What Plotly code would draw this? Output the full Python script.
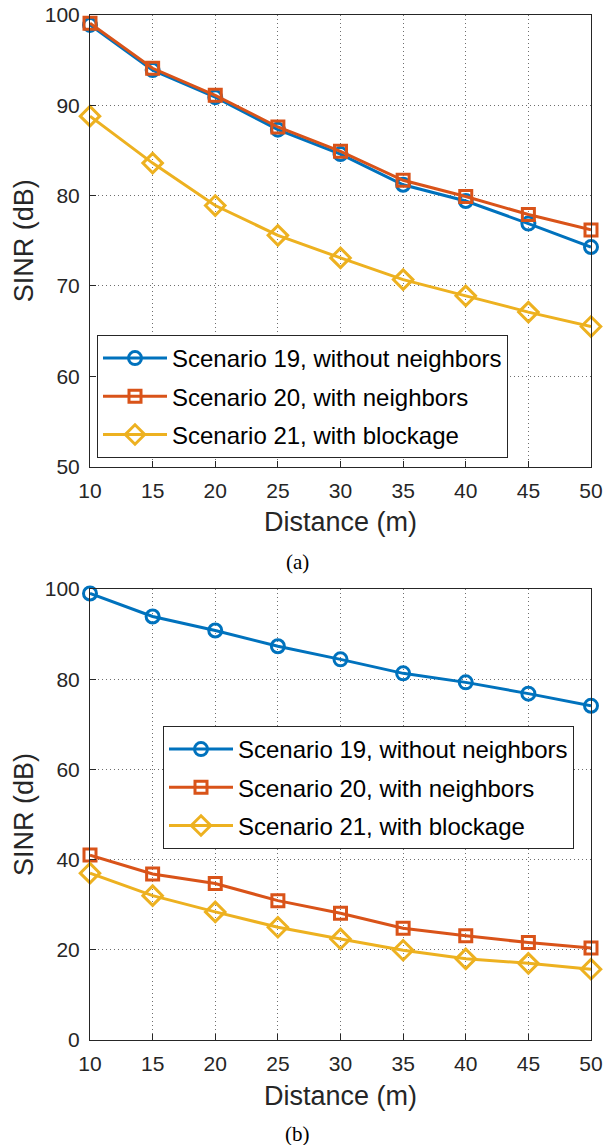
import plotly.graph_objects as go

distance = [10, 15, 20, 25, 30, 35, 40, 45, 50]

# (a)
a_s19 = [98.9, 93.9, 90.9, 87.3, 84.6, 81.2, 79.4, 76.9, 74.3]
a_s20 = [99.1, 94.1, 91.1, 87.6, 84.9, 81.7, 79.9, 77.9, 76.2]
a_s21 = [88.8, 83.6, 78.9, 75.6, 73.1, 70.7, 68.9, 67.1, 65.5]

# (b)
b_s19 = [99.0, 93.9, 90.8, 87.3, 84.4, 81.3, 79.3, 76.8, 74.1]
b_s20 = [41.0, 36.8, 34.7, 30.9, 28.1, 24.8, 23.1, 21.6, 20.4]
b_s21 = [37.0, 32.0, 28.4, 25.0, 22.4, 19.9, 18.0, 17.0, 15.7]

names = ["Scenario 19, without neighbors", "Scenario 20, with neighbors", "Scenario 21, with blockage"]
colors = ["#0072BD", "#D95319", "#EDB120"]
symbols = ["circle-open", "square-open", "diamond-open"]
msizes = [13, 12, 15]

W, H = 604, 1145
FONT = "Liberation Sans, Arial, sans-serif"
AX = "#262626"

fig = go.Figure()

for panel, (series, xa, ya, lg) in enumerate([
    ([a_s19, a_s20, a_s21], "x", "y", "legend"),
    ([b_s19, b_s20, b_s21], "x2", "y2", "legend2"),
]):
    for i, vals in enumerate(series):
        fig.add_trace(go.Scatter(
            x=distance, y=vals, name=names[i], mode="lines+markers",
            line=dict(color=colors[i], width=3),
            marker=dict(symbol=symbols[i], size=msizes[i], color=colors[i],
                        line=dict(width=3, color=colors[i])),
            xaxis=xa, yaxis=ya, legend=lg, legendgroup=f"g{panel}{i}",
            cliponaxis=False,
        ))

x0, x1 = 90 / W, 591 / W
top_dom = [1 - 466.5 / H, 1 - 15 / H]
bot_dom = [1 - 1040 / H, 1 - 589 / H]

axis_common = dict(
    showline=True, linecolor=AX, linewidth=1, mirror=True,
    ticks="inside", ticklen=6, tickcolor=AX, tickwidth=1,
    showgrid=True, gridcolor="#6e6e6e", griddash="1px,3px", gridwidth=1,
    zeroline=False, tickfont=dict(family=FONT, size=21, color=AX),
    ticklabelstandoff=5, automargin=False,
)

TF = dict(family=FONT, size=27, color=AX)

fig.update_layout(
    width=W, height=H, margin=dict(l=0, r=0, t=0, b=0),
    paper_bgcolor="white", plot_bgcolor="white",
    font=dict(family=FONT, color=AX),
    xaxis=dict(domain=[x0, x1], range=[10, 50], dtick=5, tick0=10, anchor="y",
               title=dict(text="Distance (m)", font=TF, standoff=11), **axis_common),
    yaxis=dict(domain=top_dom, range=[50, 100], dtick=10, anchor="x",
               title=dict(text="SINR (dB)", font=TF, standoff=3), **axis_common),
    xaxis2=dict(domain=[x0, x1], range=[10, 50], dtick=5, tick0=10, anchor="y2",
                title=dict(text="Distance (m)", font=TF, standoff=11), **axis_common),
    yaxis2=dict(domain=bot_dom, range=[0, 100], dtick=20, anchor="x2",
                title=dict(text="SINR (dB)", font=TF, standoff=3), **axis_common),
    legend=dict(x=97 / W, y=1 - 335 / H, xanchor="left", yanchor="top",
                bgcolor="white", bordercolor=AX, borderwidth=1, itemwidth=64,
                font=dict(family=FONT, size=24, color="black"), tracegroupgap=4),
    legend2=dict(x=163 / W, y=1 - 726 / H, xanchor="left", yanchor="top",
                 bgcolor="white", bordercolor=AX, borderwidth=1, itemwidth=64,
                 font=dict(family=FONT, size=24, color="black"), tracegroupgap=4),
    showlegend=True,
    annotations=[
        dict(text="(a)", x=297 / W, y=1 - 561.5 / H, xref="paper", yref="paper",
             xanchor="center", yanchor="middle", showarrow=False,
             font=dict(family="Liberation Serif, Times New Roman, serif", size=21, color="black")),
        dict(text="(b)", x=297 / W, y=1 - 1134 / H, xref="paper", yref="paper",
             xanchor="center", yanchor="middle", showarrow=False,
             font=dict(family="Liberation Serif, Times New Roman, serif", size=21, color="black")),
    ],
)

fig.write_html("out.html")
